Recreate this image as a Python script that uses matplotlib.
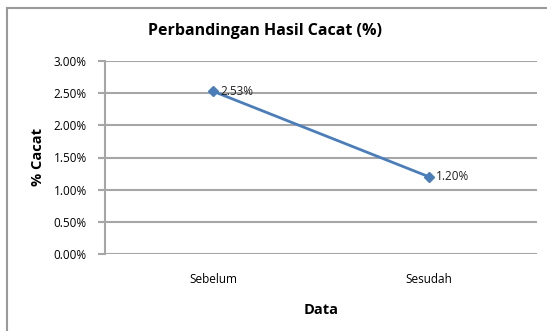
import matplotlib
matplotlib.use("Agg")
import matplotlib.pyplot as plt
from matplotlib.lines import Line2D

categories = ["Sebelum", "Sesudah"]
cacat_pct  = [2.53, 1.20]
y_ticks    = [0.0, 0.5, 1.0, 1.5, 2.0, 2.5, 3.0]

W, H = 547, 331
plt.rcParams["font.family"] = ["Open Sans", "DejaVu Sans"]

fig = plt.figure(figsize=(W / 100, H / 100), dpi=100)
ax = fig.add_axes([105 / W, 1 - 254 / H, (537 - 105) / W, (254 - 61) / H])

# chart area frame (only left and top edges are visible)
grey = "#9a9a9a"
fig.add_artist(Line2D([7 / W, 7 / W], [0, 1 - 8 / H], color=grey, lw=1.5, transform=fig.transFigure))
fig.add_artist(Line2D([7 / W, 1], [1 - 8 / H, 1 - 8 / H], color=grey, lw=1.5, transform=fig.transFigure))

x = list(range(len(categories)))
ax.plot(x, cacat_pct, color="#4a7ebb", lw=2, marker="D", ms=5.5, zorder=3)
for xi, v in zip(x, cacat_pct):
    ax.annotate(f"{v:.2f}%", (xi, v), textcoords="offset points", xytext=(5, 0),
                va="center", ha="left", fontsize=8.5, color="#222222")

ax.set_xlim(-0.5, 1.5)
ax.set_ylim(0, 3.0)
ax.set_yticks(y_ticks)
ax.set_yticklabels([f"{t:.2f}%" for t in y_ticks], fontsize=8.5)
ax.set_xticks(x)
ax.set_xticklabels(categories, fontsize=8.5)
ax.tick_params(axis="x", length=0, pad=14)
ax.tick_params(axis="y", length=5, width=1.5, color="#a6a6a6", pad=8)
ax.grid(axis="y", color="#a6a6a6", lw=1.5)
ax.set_axisbelow(True)
for side in ["top", "right", "bottom"]:
    ax.spines[side].set_visible(False)
ax.spines["left"].set_color("#a6a6a6")
ax.spines["left"].set_linewidth(1.5)

ax.set_ylabel("% Cacat", fontsize=10.5, fontweight="bold", labelpad=6)
ax.set_xlabel("Data", fontsize=10.5, fontweight="bold", labelpad=12)
fig.text(265 / W, 1 - 31 / H, "Perbandingan Hasil Cacat (%)", ha="center", va="center",
         fontsize=11.5, fontweight="bold")

fig.savefig("out.png", dpi=100)
